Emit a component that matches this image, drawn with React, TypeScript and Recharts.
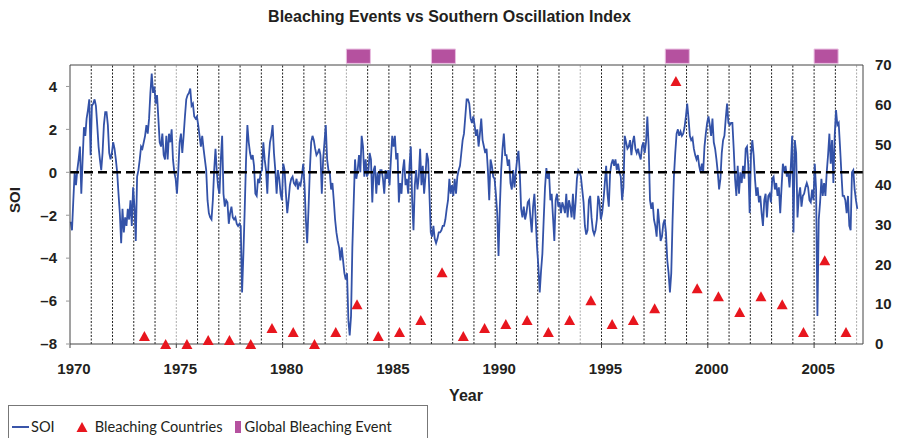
import { ComposedChart, Line, Scatter, XAxis, YAxis, ReferenceLine, ReferenceArea } from 'recharts';

// SOI, 16 readings per year
const soi1970s = [
  -2.3, -2.7, -1.3, 0.0, -0.6, 0.1, 0.6, 1.2, -1.0, 0.6, 2.1, 1.7, 2.5, 2.9, 3.4, 0.8,
  3.1, 3.2, 3.4, 3.1, 2.2, 1.2, 0.6, 0.1, 0.9, 2.2, 2.8, 2.8, 2.2, 0.9, 0.6, 0.9,
  1.4, 1.1, 0.6, 0.0, -1.0, -1.9, -3.3, -1.7, -2.8, -2.1, -2.5, -1.7, -2.2, -1.3, -2.5, -0.7,
  -1.6, -3.2, -0.2, 0.1, 0.6, 1.2, 1.1, 1.4, 1.7, 2.2, 1.8, 2.5, 3.7, 4.6, 3.7, 4.0,
  3.2, 3.6, 2.5, 1.4, 1.2, 1.8, 0.8, 0.6, 1.7, 0.6, 1.8, 1.4, 2.0, 0.6, 0.0, -0.3,
  -1.0, 0.1, 1.4, 1.8, 0.9, 1.7, 2.6, 3.4, 3.6, 3.7, 3.9, 3.1, 3.2, 2.6, 2.5, 2.6,
  2.2, 1.7, 1.2, 1.7, 1.1, 0.6, 0.1, -1.3, -1.9, -2.1, -2.2, -1.3, 0.1, 1.1, 0.0, -0.7,
  -1.0, 0.6, 1.7, -1.0, -1.6, -1.3, -1.4, -2.4, -1.9, -1.6, -2.1, -2.2, -2.1, -2.4, -2.5, -2.4,
  -2.5, -5.6, -3.8, -1.7, 0.6, 2.2, 1.4, 0.9, 0.6, 0.8, 0.3, -1.0, -1.1, -0.3, -0.5, 0.0,
  0.1, 1.4, 0.6, 0.1, -1.0, 0.6, 1.4, 1.7, 2.2, 0.9, 0.1, -1.0, 0.1, -0.3, -1.0, -1.3,
];
const soi1980s = [
  0.4, 0.1, -1.0, -1.9, -1.3, -0.6, -0.3, -0.2, -0.5, -0.6, -0.3, -0.8, -0.5, -0.6, -0.2, 0.4,
  -0.6, -2.2, -3.3, -1.7, 0.1, 1.4, 1.7, 1.5, 1.1, 0.8, 0.9, 1.1, 0.8, -1.0, 0.6, 1.4,
  2.2, 0.6, 0.1, 0.0, -0.8, -0.5, -1.3, -2.2, -2.8, -3.2, -3.5, -4.1, -3.5, -4.1, -4.7, -5.0,
  -4.7, -6.9, -7.6, -6.7, -3.5, -1.4, 0.6, -0.3, 0.1, 0.8, 0.0, 1.7, 1.2, -0.2, 0.6, -0.2,
  0.0, 0.9, 0.6, -1.4, 0.1, 0.3, -1.0, 0.0, -0.6, 0.1, 0.1, -0.3, -1.0, 0.1, -0.3, 0.1,
  -0.6, 0.6, 1.7, 1.2, 1.7, 0.6, 0.9, -1.4, -0.5, -1.0, 0.1, 0.6, -0.6, -0.3, -1.0, 0.3,
  1.2, -1.3, -2.7, -0.6, 0.1, -0.8, -0.2, 1.1, -0.6, 0.3, -1.0, -0.2, 0.9, 0.6, -1.0, -2.8,
  -3.0, -2.5, -3.1, -3.3, -3.1, -2.8, -2.8, -2.7, -2.5, -2.5, -2.2, -1.7, -1.3, -0.3, -1.0, -0.6,
  -1.1, -0.3, -1.0, -0.2, 0.1, 0.3, 0.9, 1.5, 1.8, 2.6, 3.4, 3.4, 3.2, 2.5, 2.3, 2.6,
  2.2, 1.7, 2.0, 1.2, 1.8, 2.5, 1.5, 1.2, 0.9, 1.1, 0.1, -1.3, 0.6, 0.3, -0.2, -0.3,
];
const soi1990s = [
  -1.0, -1.9, -3.9, -1.6, 0.1, 1.1, 1.8, 0.8, 0.8, 0.3, 0.6, -0.5, -0.8, 0.1, -0.7, 0.0,
  0.6, 1.0, 0.0, -1.7, -2.1, -1.6, -2.2, -1.9, -1.4, -1.3, -2.1, -2.8, -1.6, -1.0, -2.2, -3.5,
  -4.4, -5.6, -4.6, -3.8, -2.2, -0.7, 0.2, -0.3, 0.0, -1.3, -1.0, -2.1, -3.2, -1.3, -1.0, -1.6,
  -1.4, -1.9, -1.4, -1.6, -1.9, -1.0, -2.1, -1.3, -1.6, -2.1, -1.0, -2.2, -1.4, -0.3, 0.1, 0.0,
  -0.2, -0.8, -1.4, -2.5, -2.9, -2.7, -1.3, -1.1, -2.1, -2.7, -2.9, -2.7, -2.2, -1.1, -1.4, -2.2,
  -1.9, -1.3, -0.5, 0.3, -1.0, -1.6, 0.0, 0.4, 0.6, 0.3, 0.6, 0.1, 0.4, 0.0, -0.2, -1.3,
  -0.7, 1.7, 1.4, 1.1, 1.2, 1.5, 0.8, 1.4, 1.7, 1.1, 0.9, 1.1, 0.8, 0.6, 1.2, 1.4,
  0.9, 1.4, 2.6, 1.2, -1.3, -1.7, -1.4, -2.2, -2.5, -3.0, -1.7, -2.4, -3.2, -3.0, -2.4, -2.2,
  -2.8, -4.1, -4.7, -5.6, -4.7, -2.2, -0.2, 0.9, 1.8, 2.0, 1.7, 1.9, 1.7, 1.8, 2.1, 2.6,
  3.2, 2.5, 1.7, 1.5, 1.6, 1.1, 0.8, 0.6, 0.8, 0.3, 0.0, 0.4, 0.0, 1.2, 1.8, 2.3,
];
const soi2000s = [
  2.6, 2.2, 1.7, 2.5, 1.4, 1.1, 0.6, 0.0, -0.8, -0.3, 0.9, 1.5, 1.7, 2.5, 3.2, 2.3,
  2.2, 2.3, 2.3, 1.1, -0.3, -1.1, 0.3, -1.0, 0.0, -0.5, 0.3, -0.3, 1.1, 1.2, 0.3, -1.9,
  0.8, 1.5, 0.8, -0.3, -1.1, -0.7, -1.4, -1.1, -1.9, -2.5, -1.3, -1.0, -2.1, -1.1, -1.0, -1.4,
  -0.3, -0.2, -0.8, -0.5, -1.1, -0.7, -1.9, -0.7, 0.4, 0.0, 0.3, -0.2, 0.0, -0.7, 0.3, 1.7,
  -2.8, 1.5, 0.9, -2.1, -1.1, -0.7, -1.6, -1.1, -1.0, -0.7, -0.5, -0.7, -1.3, -1.4, -0.8, -1.3,
  0.4, -0.8, -6.7, -2.2, -1.4, -0.3, -1.1, -0.5, -1.1, 0.0, 0.8, 1.8, 0.4, 1.5, -0.5, 1.7,
  2.9, 2.2, 2.3, 1.2, 0.0, -1.1, -1.1, -1.3, -1.9, -1.1, -2.5, -2.7, 0.0, 0.1, -0.8, -1.3,
  -1.7,
];

const bleachYears = [
  1973, 1974, 1975, 1976, 1977, 1978, 1979, 1980, 1981, 1982, 1983, 1984, 1985, 1986, 1987, 1988, 1989,
  1990, 1991, 1992, 1993, 1994, 1995, 1996, 1997, 1998, 1999, 2000, 2001, 2002, 2003, 2004, 2005, 2006,
];
const bleachCountries = [
  2, 0, 0, 1, 1, 0, 4, 3, 0, 3, 10, 2, 3, 6, 18, 2, 4,
  5, 6, 3, 6, 11, 5, 6, 9, 66, 14, 12, 8, 12, 10, 3, 21, 3,
];
const globalEventYears = [1983, 1987, 1998, 2005];

const yearTicks = [1970, 1975, 1980, 1985, 1990, 1995, 2000, 2005];
const soiTicks = [-8, -6, -4, -2, 0, 2, 4];
const countTicks = [0, 10, 20, 30, 40, 50, 60, 70];
const lightGridYears = [1975, 1983, 1994, 2007];

const soiData = [...soi1970s, ...soi1980s, ...soi1990s, ...soi2000s].map((soi, i) => ({
  x: 1970 + (i + 0.5) / 16,
  soi,
}));
const bleachData = bleachYears.map((y, i) => ({ x: y + 0.5, count: bleachCountries[i] }));
const gridYears = Array.from({ length: 37 }, (_, i) => 1971 + i);

const axisFont = { fontFamily: '"Liberation Sans", Arial, sans-serif', fontSize: 15, fontWeight: 700, fill: '#231f20' };

function Triangle(props: any) {
  const { cx, cy } = props;
  if (cx == null || cy == null) return null;
  return <polygon points={`${cx},${cy - 5} ${cx - 5.5},${cy + 5} ${cx + 5.5},${cy + 5}`} fill="#e8161e" />;
}

const fmtSoi = (v: number) => (v < 0 ? `\u2013${Math.abs(v)}` : `${v}`);

export default function App() {
  return (
    <div style={{ position: 'absolute', left: 0, top: 0, width: 899, height: 438, background: '#fff', overflow: 'hidden' }}>
      <div
        style={{
          position: 'absolute',
          left: 0,
          width: 899,
          top: 8,
          textAlign: 'center',
          fontFamily: '"Liberation Sans", Arial, sans-serif',
          fontWeight: 700,
          fontSize: 16,
          color: '#231f20',
        }}
      >
        Bleaching Events vs Southern Oscillation Index
      </div>

      <ComposedChart width={899} height={438} margin={{ top: 65, right: 0, bottom: 64, left: 0 }}>
        <XAxis
          dataKey="x"
          type="number"
          domain={[1970, 2007.3]}
          ticks={yearTicks}
          tick={{ ...axisFont, dx: 4 }}
          tickSize={4}
          tickMargin={15}
          height={30}
          axisLine={{ stroke: '#444' }}
          tickLine={{ stroke: '#444' }}
        />
        <YAxis
          yAxisId="left"
          domain={[-8, 5]}
          ticks={soiTicks}
          tickFormatter={fmtSoi}
          tick={axisFont}
          width={70}
          tickSize={4}
          tickMargin={9}
          axisLine={{ stroke: '#444' }}
          tickLine={{ stroke: '#999' }}
        />
        <YAxis
          yAxisId="right"
          orientation="right"
          domain={[0, 70]}
          ticks={countTicks}
          tick={axisFont}
          width={36}
          tickSize={0}
          tickMargin={12}
          axisLine={{ stroke: '#444' }}
          tickLine={false}
        />

        {gridYears.map((y) => (
          <ReferenceLine
            key={y}
            x={y}
            yAxisId="left"
            stroke={lightGridYears.includes(y) ? '#aaa' : '#222'}
            strokeWidth={1}
            strokeDasharray="2 1.5"
          />
        ))}
        <ReferenceLine y={70} yAxisId="right" stroke="#444" />

        {globalEventYears.map((y) => (
          <ReferenceArea
            key={y}
            x1={y}
            x2={y + 1.13}
            y1={70.4}
            y2={74}
            yAxisId="right"
            ifOverflow="visible"
            fill="#b5519f"
            fillOpacity={1}
            stroke="#e9bde0"
            strokeWidth={1}
          />
        ))}

        <Line
          data={soiData}
          dataKey="soi"
          yAxisId="left"
          type="linear"
          stroke="#3352a8"
          strokeWidth={1.8}
          dot={false}
          isAnimationActive={false}
        />
        <ReferenceLine y={0} yAxisId="left" stroke="#000" strokeWidth={2.5} strokeDasharray="9 5" />
        <Scatter data={bleachData} dataKey="count" yAxisId="right" shape={<Triangle />} isAnimationActive={false} />
      </ComposedChart>

      <div
        style={{
          position: 'absolute',
          left: 14,
          top: 200,
          transform: 'translate(-50%, -50%) rotate(-90deg)',
          fontFamily: '"Liberation Sans", Arial, sans-serif',
          fontWeight: 700,
          fontSize: 15,
          color: '#231f20',
        }}
      >
        SOI
      </div>
      <div
        style={{
          position: 'absolute',
          left: 466,
          top: 396,
          transform: 'translate(-50%, -50%)',
          fontFamily: '"Liberation Sans", Arial, sans-serif',
          fontWeight: 700,
          fontSize: 16,
          color: '#231f20',
        }}
      >
        Year
      </div>

      <div
        style={{
          position: 'absolute',
          left: 8,
          top: 405,
          width: 420,
          height: 45,
          border: '1px solid #777',
          boxSizing: 'border-box',
          fontFamily: 'Lato, "Open Sans", sans-serif',
          fontSize: 14.6,
          color: '#231f20',
        }}
      >
        <div style={{ position: 'absolute', top: 12, left: 3, display: 'flex', alignItems: 'center', whiteSpace: 'nowrap' }}>
          <span style={{ display: 'inline-block', width: 17, height: 2, background: '#3a55a9', marginRight: 2 }} />
          <span>SOI</span>
          <svg width={14} height={12} style={{ marginLeft: 20, marginRight: 6 }}>
            <polygon points="7,1 1.5,11 12.5,11" fill="#e8161e" />
          </svg>
          <span>Bleaching Countries</span>
          <span style={{ display: 'inline-block', width: 6, height: 12, background: '#b5519f', marginLeft: 12, marginRight: 4 }} />
          <span>Global Bleaching Event</span>
        </div>
      </div>
    </div>
  );
}
